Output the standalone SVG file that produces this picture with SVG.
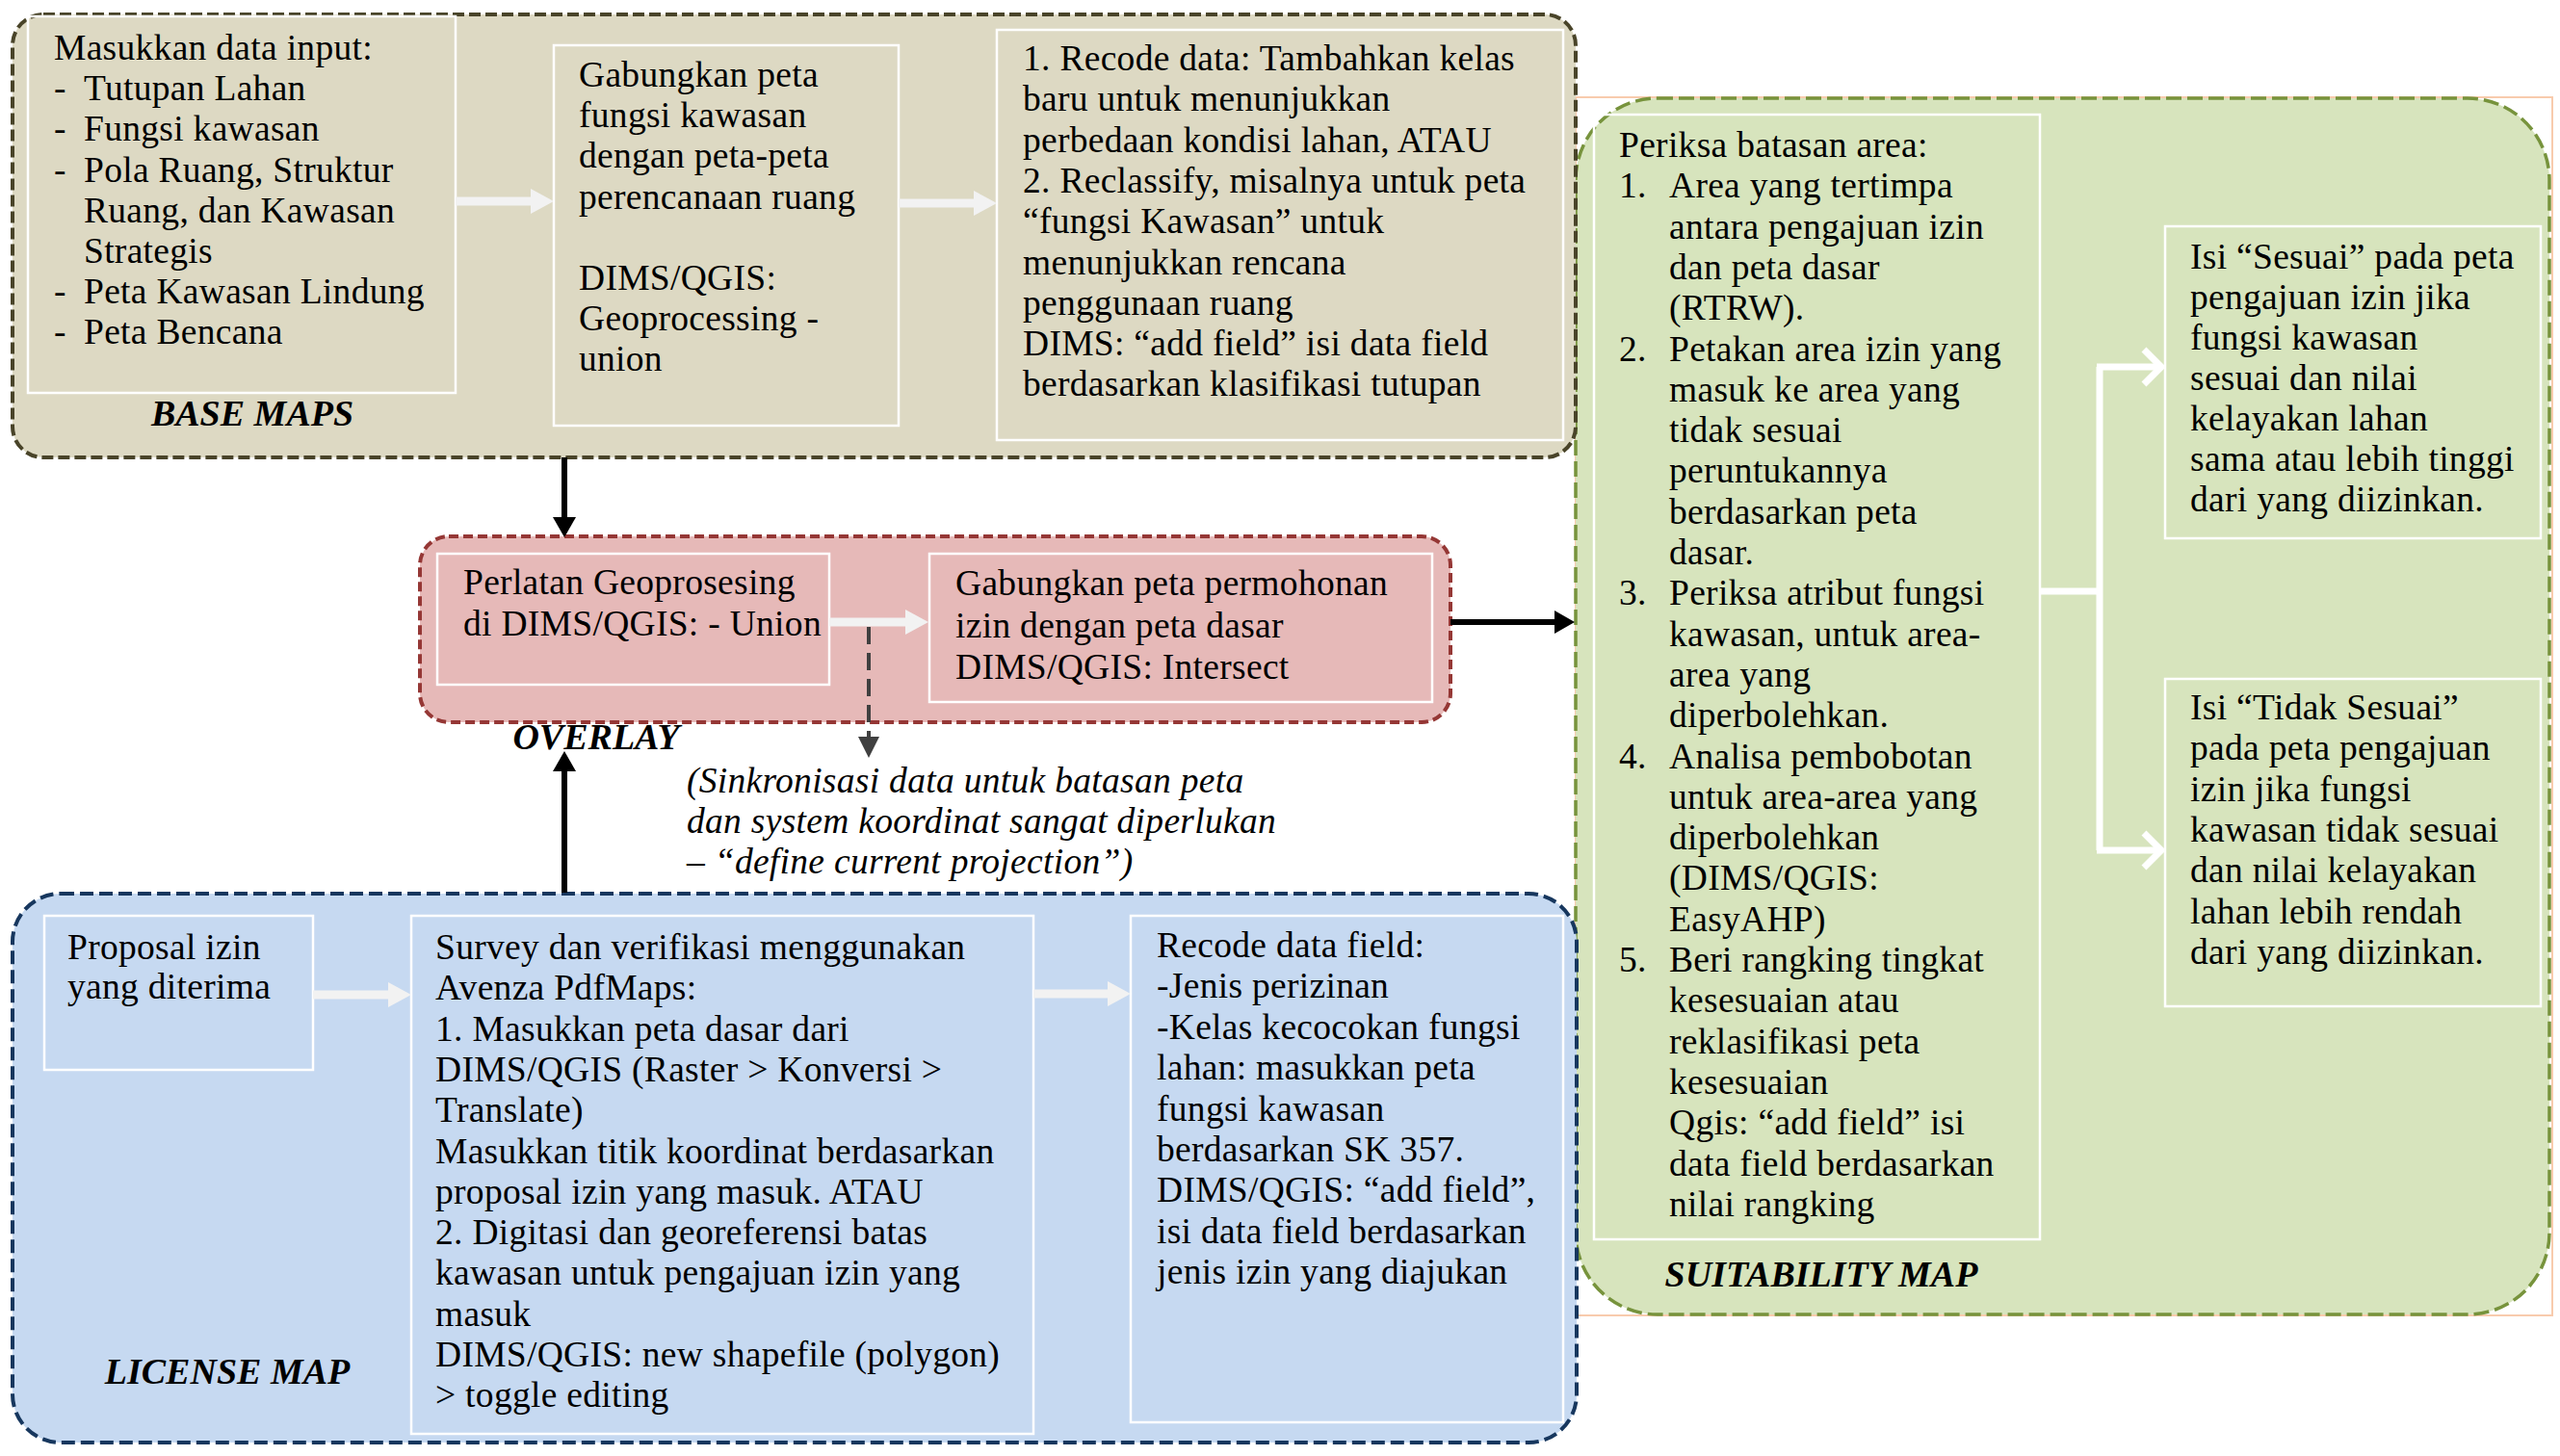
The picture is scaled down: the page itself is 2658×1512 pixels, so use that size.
<svg xmlns="http://www.w3.org/2000/svg" width="2658" height="1512" viewBox="0 0 2658 1512">
<defs>
<style>
.t{font-family:"Liberation Serif","Times New Roman",serif;font-size:37.5px;letter-spacing:0.3px;fill:#000}
.it{font-style:italic}
.lbl{font-family:"Liberation Serif","Times New Roman",serif;font-size:38px;font-weight:bold;font-style:italic;fill:#000;text-anchor:middle}
.inner{fill:none;stroke:#fff;stroke-width:2.5}
.gray{stroke:#f2f2f2;stroke-width:9;fill:none}
.blk{stroke:#000;stroke-width:6;fill:none}
.wht{stroke:#fff;stroke-width:7;fill:none}
.dsh{stroke:#404040;stroke-width:4;stroke-dasharray:18 9;fill:none}
</style>
<marker id="gh" markerUnits="userSpaceOnUse" markerWidth="24" markerHeight="26" viewBox="0 0 24 26" refX="0" refY="13" orient="auto"><path d="M0,0 L24,13 L0,26Z" fill="#f2f2f2"/></marker>
<marker id="bh" markerUnits="userSpaceOnUse" markerWidth="21" markerHeight="24" viewBox="0 0 21 24" refX="0" refY="12" orient="auto"><path d="M0,0 L21,12 L0,24Z" fill="#000"/></marker>
<marker id="dh" markerUnits="userSpaceOnUse" markerWidth="22" markerHeight="22" viewBox="0 0 22 22" refX="0" refY="11" orient="auto"><path d="M0,0 L22,11 L0,22Z" fill="#404040"/></marker>
<marker id="ch" markerUnits="userSpaceOnUse" markerWidth="28" markerHeight="44" viewBox="0 0 28 44" refX="22" refY="22" orient="auto" overflow="visible"><path d="M4,4 L22,22 L4,40" fill="none" stroke="#fff" stroke-width="7"/></marker>
</defs>

<rect id="frame" x="1636" y="101" width="1014" height="1265" fill="none" stroke="#f8cbad" stroke-width="2"/>

<g id="suitability-map">
<rect x="1636" y="102" width="1011" height="1263" rx="85" fill="#d7e4bd" stroke="#77933c" stroke-width="3.5" stroke-dasharray="16 6"/>
<text class="lbl" x="1891" y="1336">SUITABILITY MAP</text>
</g>

<g id="base-maps">
<rect x="13" y="15" width="1623" height="460" rx="32" fill="#ddd9c3" stroke="#494429" stroke-width="4" stroke-dasharray="12 5"/>
<text class="lbl" x="262" y="442">BASE MAPS</text>
</g>

<g id="overlay">
<rect x="436" y="557" width="1070" height="193" rx="30" fill="#e6b9b8" stroke="#953735" stroke-width="4" stroke-dasharray="10 5"/>
</g>

<g id="license-map">
<rect x="13" y="928" width="1624" height="570" rx="50" fill="#c6d9f1" stroke="#17375e" stroke-width="4" stroke-dasharray="14 6"/>
<text class="lbl" x="236" y="1437">LICENSE MAP</text>
</g>

<g id="n-input">
<rect class="inner" x="29" y="17" width="444" height="391"/>
<text class="t">
<tspan x="56" y="62">Masukkan data input:</tspan>
<tspan x="56" y="104">-</tspan><tspan x="87" y="104">Tutupan Lahan</tspan>
<tspan x="56" y="146">-</tspan><tspan x="87" y="146">Fungsi kawasan</tspan>
<tspan x="56" y="189">-</tspan><tspan x="87" y="189">Pola Ruang, Struktur</tspan>
<tspan x="87" y="231">Ruang, dan Kawasan</tspan>
<tspan x="87" y="273">Strategis</tspan>
<tspan x="56" y="315">-</tspan><tspan x="87" y="315">Peta Kawasan Lindung</tspan>
<tspan x="56" y="357">-</tspan><tspan x="87" y="357">Peta Bencana</tspan>
</text>
</g>

<g id="n-gabung">
<rect class="inner" x="575" y="47" width="358" height="395"/>
<text class="t">
<tspan x="601" y="90">Gabungkan peta</tspan>
<tspan x="601" y="132">fungsi kawasan</tspan>
<tspan x="601" y="174">dengan peta-peta</tspan>
<tspan x="601" y="217">perencanaan ruang</tspan>
<tspan x="601" y="301">DIMS/QGIS:</tspan>
<tspan x="601" y="343">Geoprocessing -</tspan>
<tspan x="601" y="385">union</tspan>
</text>
</g>

<g id="n-recode">
<rect class="inner" x="1035" y="31" width="588" height="426"/>
<text class="t">
<tspan x="1062" y="73">1. Recode data: Tambahkan kelas</tspan>
<tspan x="1062" y="115">baru untuk menunjukkan</tspan>
<tspan x="1062" y="158">perbedaan kondisi lahan, ATAU</tspan>
<tspan x="1062" y="200">2. Reclassify, misalnya untuk peta</tspan>
<tspan x="1062" y="242">“fungsi Kawasan” untuk</tspan>
<tspan x="1062" y="285">menunjukkan rencana</tspan>
<tspan x="1062" y="327">penggunaan ruang</tspan>
<tspan x="1062" y="369">DIMS: “add field” isi data field</tspan>
<tspan x="1062" y="411">berdasarkan klasifikasi tutupan</tspan>
</text>
</g>

<g id="n-union">
<rect class="inner" x="454" y="575" width="407" height="136"/>
<text class="t">
<tspan x="481" y="617">Perlatan Geoprosesing</tspan>
<tspan x="481" y="660">di DIMS/QGIS: - Union</tspan>
</text>
</g>

<g id="n-intersect">
<rect class="inner" x="965" y="575" width="522" height="154"/>
<text class="t">
<tspan x="992" y="618">Gabungkan peta permohonan</tspan>
<tspan x="992" y="662">izin dengan peta dasar</tspan>
<tspan x="992" y="705">DIMS/QGIS: Intersect</tspan>
</text>
</g>

<g id="overlay-label">
<text class="lbl" x="619" y="778">OVERLAY</text>
</g>

<g id="n-note">
<text class="t it">
<tspan x="713" y="823">(Sinkronisasi data untuk batasan peta</tspan>
<tspan x="713" y="865">dan system koordinat sangat diperlukan</tspan>
<tspan x="713" y="907">– “define current projection”)</tspan>
</text>
</g>

<g id="n-proposal">
<rect class="inner" x="46" y="951" width="279" height="160"/>
<text class="t">
<tspan x="70" y="996">Proposal izin</tspan>
<tspan x="70" y="1037">yang diterima</tspan>
</text>
</g>

<g id="n-survey">
<rect class="inner" x="427" y="951" width="646" height="538"/>
<text class="t">
<tspan x="452" y="996">Survey dan verifikasi menggunakan</tspan>
<tspan x="452" y="1038">Avenza PdfMaps:</tspan>
<tspan x="452" y="1081">1. Masukkan peta dasar dari</tspan>
<tspan x="452" y="1123">DIMS/QGIS (Raster &gt; Konversi &gt;</tspan>
<tspan x="452" y="1165">Translate)</tspan>
<tspan x="452" y="1208">Masukkan titik koordinat berdasarkan</tspan>
<tspan x="452" y="1250">proposal izin yang masuk. ATAU</tspan>
<tspan x="452" y="1292">2. Digitasi dan georeferensi batas</tspan>
<tspan x="452" y="1334">kawasan untuk pengajuan izin yang</tspan>
<tspan x="452" y="1377">masuk</tspan>
<tspan x="452" y="1419">DIMS/QGIS: new shapefile (polygon)</tspan>
<tspan x="452" y="1461">&gt; toggle editing</tspan>
</text>
</g>

<g id="n-recode-field">
<rect class="inner" x="1174" y="951" width="449" height="526"/>
<text class="t">
<tspan x="1201" y="994">Recode data field:</tspan>
<tspan x="1201" y="1036">-Jenis perizinan</tspan>
<tspan x="1201" y="1079">-Kelas kecocokan fungsi</tspan>
<tspan x="1201" y="1121">lahan: masukkan peta</tspan>
<tspan x="1201" y="1164">fungsi kawasan</tspan>
<tspan x="1201" y="1206">berdasarkan SK 357.</tspan>
<tspan x="1201" y="1248">DIMS/QGIS: “add field”,</tspan>
<tspan x="1201" y="1291">isi data field berdasarkan</tspan>
<tspan x="1201" y="1333">jenis izin yang diajukan</tspan>
</text>
</g>

<g id="n-periksa">
<rect class="inner" x="1655" y="119" width="463" height="1168"/>
<text class="t">
<tspan x="1681" y="163">Periksa batasan area:</tspan>
<tspan x="1681" y="205">1.</tspan><tspan x="1733" y="205">Area yang tertimpa</tspan>
<tspan x="1733" y="248">antara pengajuan izin</tspan>
<tspan x="1733" y="290">dan peta dasar</tspan>
<tspan x="1733" y="332">(RTRW).</tspan>
<tspan x="1681" y="375">2.</tspan><tspan x="1733" y="375">Petakan area izin yang</tspan>
<tspan x="1733" y="417">masuk ke area yang</tspan>
<tspan x="1733" y="459">tidak sesuai</tspan>
<tspan x="1733" y="501">peruntukannya</tspan>
<tspan x="1733" y="544">berdasarkan peta</tspan>
<tspan x="1733" y="586">dasar.</tspan>
<tspan x="1681" y="628">3.</tspan><tspan x="1733" y="628">Periksa atribut fungsi</tspan>
<tspan x="1733" y="671">kawasan, untuk area-</tspan>
<tspan x="1733" y="713">area yang</tspan>
<tspan x="1733" y="755">diperbolehkan.</tspan>
<tspan x="1681" y="798">4.</tspan><tspan x="1733" y="798">Analisa pembobotan</tspan>
<tspan x="1733" y="840">untuk area-area yang</tspan>
<tspan x="1733" y="882">diperbolehkan</tspan>
<tspan x="1733" y="924">(DIMS/QGIS:</tspan>
<tspan x="1733" y="967">EasyAHP)</tspan>
<tspan x="1681" y="1009">5.</tspan><tspan x="1733" y="1009">Beri rangking tingkat</tspan>
<tspan x="1733" y="1051">kesesuaian atau</tspan>
<tspan x="1733" y="1094">reklasifikasi peta</tspan>
<tspan x="1733" y="1136">kesesuaian</tspan>
<tspan x="1733" y="1178">Qgis: “add field” isi</tspan>
<tspan x="1733" y="1221">data field berdasarkan</tspan>
<tspan x="1733" y="1263">nilai rangking</tspan>
</text>
</g>

<g id="n-sesuai">
<rect class="inner" x="2248" y="235" width="390" height="324"/>
<text class="t">
<tspan x="2274" y="279">Isi “Sesuai” pada peta</tspan>
<tspan x="2274" y="321">pengajuan izin jika</tspan>
<tspan x="2274" y="363">fungsi kawasan</tspan>
<tspan x="2274" y="405">sesuai dan nilai</tspan>
<tspan x="2274" y="447">kelayakan lahan</tspan>
<tspan x="2274" y="489">sama atau lebih tinggi</tspan>
<tspan x="2274" y="531">dari yang diizinkan.</tspan>
</text>
</g>

<g id="n-tidak-sesuai">
<rect class="inner" x="2248" y="705" width="390" height="340"/>
<text class="t">
<tspan x="2274" y="747">Isi “Tidak Sesuai”</tspan>
<tspan x="2274" y="789">pada peta pengajuan</tspan>
<tspan x="2274" y="832">izin jika fungsi</tspan>
<tspan x="2274" y="874">kawasan tidak sesuai</tspan>
<tspan x="2274" y="916">dan nilai kelayakan</tspan>
<tspan x="2274" y="959">lahan lebih rendah</tspan>
<tspan x="2274" y="1001">dari yang diizinkan.</tspan>
</text>
</g>

<g id="connectors">
<line class="gray" x1="473" y1="209" x2="551" y2="209" marker-end="url(#gh)"/>
<line class="gray" x1="933" y1="211" x2="1011" y2="211" marker-end="url(#gh)"/>
<line class="gray" x1="861" y1="646" x2="940" y2="646" marker-end="url(#gh)"/>
<line class="gray" x1="325" y1="1033" x2="403" y2="1033" marker-end="url(#gh)"/>
<line class="gray" x1="1073" y1="1032" x2="1150" y2="1032" marker-end="url(#gh)"/>
<line class="blk" x1="586" y1="475" x2="586" y2="537" marker-end="url(#bh)"/>
<line class="blk" x1="586" y1="927" x2="586" y2="801" marker-end="url(#bh)"/>
<line class="blk" x1="1506" y1="646" x2="1614" y2="646" stroke-width="7" marker-end="url(#bh)"/>
<line class="dsh" x1="902" y1="651" x2="902" y2="765" marker-end="url(#dh)"/>
<path class="wht" d="M2118,614 H2180 M2180,381 V883"/>
<line class="wht" x1="2177" y1="381" x2="2244" y2="381" marker-end="url(#ch)"/>
<line class="wht" x1="2177" y1="883" x2="2244" y2="883" marker-end="url(#ch)"/>
</g>
</svg>
